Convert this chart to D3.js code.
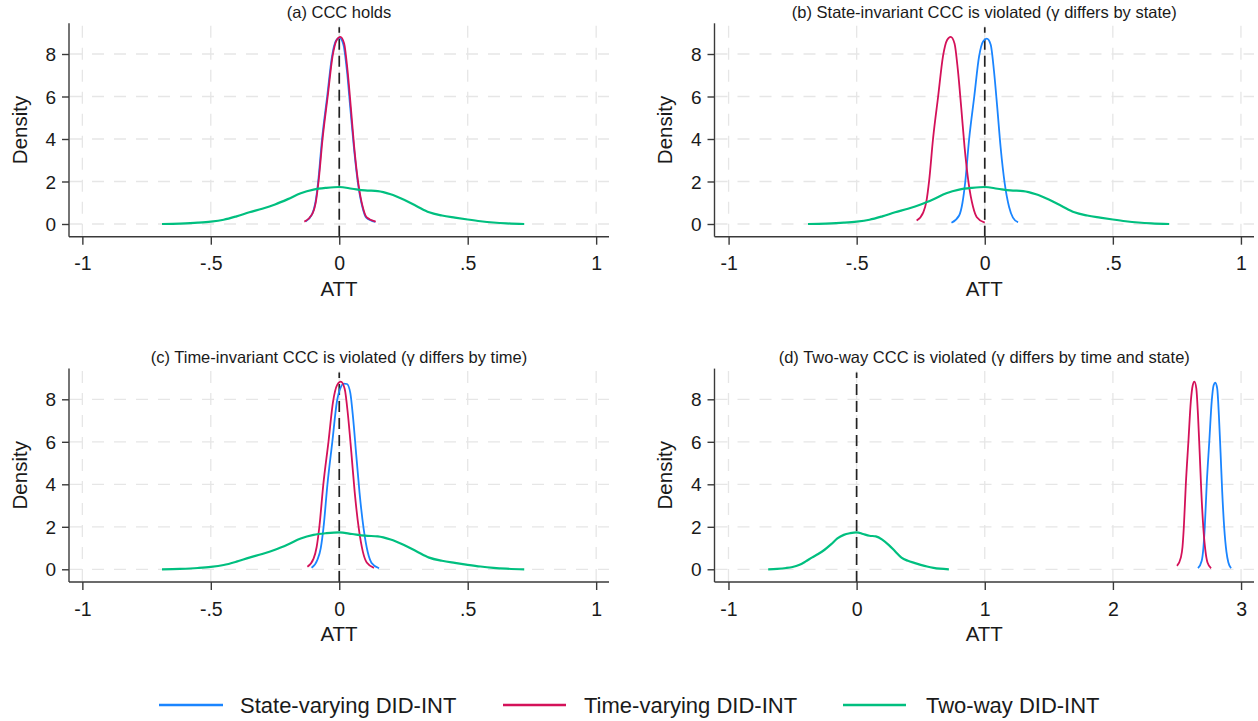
<!DOCTYPE html>
<html><head><meta charset="utf-8">
<script src="https://cdn.jsdelivr.net/npm/d3@7"></script>
<style>
body{margin:0;background:#fff}
svg{display:block}
text{font-family:"Liberation Sans",Arial,sans-serif;fill:#1a1a1a}
</style>
</head><body>
<svg id="chart" width="1258" height="721"></svg>
<script>
// ---------------- data ----------------
const seriesNames = ["State-varying DID-INT", "Time-varying DID-INT", "Two-way DID-INT"];
const seriesColors = ["#1a85ff", "#d41159", "#00bf7f"];
const panelTitles = [
  "(a) CCC holds",
  "(b) State-invariant CCC is violated (\u03b3 differs by state)",
  "(c) Time-invariant CCC is violated (\u03b3 differs by time)",
  "(d) Two-way CCC is violated (\u03b3 differs by time and state)"
];
const xTicksNarrow = [-1, -0.5, 0, 0.5, 1];
const xTickLabelsNarrow = ["-1", "-.5", "0", ".5", "1"];
const xTicksWide = [-1, 0, 1, 2, 3];
const xTickLabelsWide = ["-1", "0", "1", "2", "3"];
const yTicks = [0, 2, 4, 6, 8];
const yTickLabels = ["0", "2", "4", "6", "8"];
const xAxisTitle = "ATT";
const yAxisTitle = "Density";

// Two-way DID-INT density (same in every panel)
const twoWayDensity = [
  [-0.69,0.00],[-0.62,0.02],[-0.55,0.06],[-0.50,0.11],[-0.45,0.20],[-0.40,0.36],
  [-0.35,0.55],[-0.30,0.72],[-0.25,0.92],[-0.20,1.17],[-0.15,1.45],[-0.10,1.62],
  [-0.05,1.70],[0.00,1.74],[0.05,1.66],[0.10,1.58],[0.15,1.55],[0.20,1.40],
  [0.25,1.15],[0.30,0.85],[0.35,0.55],[0.40,0.40],[0.45,0.30],[0.50,0.21],
  [0.55,0.13],[0.60,0.07],[0.65,0.03],[0.72,0.00]
];
// panel (a)
const stateA = [
  [-0.131,0.12],[-0.106,0.45],[-0.093,1.0],[-0.082,2.0],[-0.067,4.0],[-0.047,6.0],
  [-0.028,7.9],[-0.013,8.62],[0.001,8.76],[0.016,8.45],[0.030,7.2],[0.043,5.45],
  [0.057,3.6],[0.073,1.9],[0.090,0.8],[0.105,0.3],[0.140,0.10]
];
const timeA = [
  [-0.136,0.11],[-0.104,0.50],[-0.091,1.05],[-0.080,2.07],[-0.065,4.0],[-0.045,6.0],
  [-0.026,7.9],[-0.010,8.66],[0.004,8.81],[0.019,8.5],[0.032,7.25],[0.045,5.5],
  [0.058,3.64],[0.074,1.92],[0.091,0.82],[0.106,0.32],[0.142,0.11]
];
// panel (b)
const stateB = [
  [-0.130,0.06],[-0.100,0.40],[-0.087,1.0],[-0.076,2.0],[-0.061,4.0],[-0.041,6.0],
  [-0.022,7.9],[-0.006,8.6],[0.008,8.72],[0.023,8.45],[0.036,7.2],[0.049,5.45],
  [0.062,3.6],[0.078,1.9],[0.095,0.8],[0.110,0.3],[0.130,0.08]
];
const timeB = [
  [-0.266,0.16],[-0.240,0.55],[-0.228,1.05],[-0.217,2.05],[-0.202,4.0],[-0.182,6.0],
  [-0.163,7.9],[-0.147,8.66],[-0.133,8.81],[-0.118,8.5],[-0.105,7.25],[-0.092,5.5],
  [-0.079,3.64],[-0.063,1.92],[-0.046,0.82],[-0.031,0.32],[0.000,0.06]
];
// panel (c)
const stateC = [
  [-0.108,0.07],[-0.085,0.45],[-0.072,1.0],[-0.061,2.0],[-0.046,4.0],[-0.027,6.0],
  [-0.009,7.9],[0.007,8.6],[0.018,8.74],[0.030,8.72],[0.043,8.3],[0.054,7.1],
  [0.066,5.4],[0.079,3.6],[0.095,1.9],[0.111,0.8],[0.126,0.3],[0.155,0.05]
];
const timeC = [
  [-0.124,0.12],[-0.100,0.50],[-0.088,1.05],[-0.077,2.05],[-0.062,4.0],[-0.042,6.0],
  [-0.024,7.9],[-0.008,8.68],[0.006,8.83],[0.021,8.5],[0.034,7.25],[0.047,5.5],
  [0.060,3.64],[0.076,1.92],[0.092,0.82],[0.107,0.32],[0.135,0.07]
];
// panel (d)
const stateD = [
  [2.664,0.05],[2.693,0.40],[2.706,1.0],[2.717,2.0],[2.732,4.0],[2.752,6.0],
  [2.771,7.9],[2.786,8.66],[2.799,8.78],[2.814,8.5],[2.827,7.25],[2.840,5.5],
  [2.853,3.64],[2.869,1.92],[2.886,0.82],[2.901,0.32],[2.922,0.05]
];
const timeD = [
  [2.500,0.16],[2.530,0.55],[2.543,1.05],[2.554,2.05],[2.569,4.0],[2.589,6.0],
  [2.608,7.9],[2.623,8.66],[2.636,8.83],[2.651,8.5],[2.664,7.25],[2.677,5.5],
  [2.690,3.64],[2.706,1.92],[2.723,0.82],[2.738,0.32],[2.766,0.05]
];

// ---------------- layout ----------------
const svg = d3.select("#chart");
const yDomain = [-0.598, 9.445];

const panels = [
  {title: panelTitles[0], left: 69,    right: 609,  top: 23.3,  bottom: 236.7, xDomain: [-1.052, 1.05],
   ticks: xTicksNarrow, tickLabels: xTickLabelsNarrow, series: [stateA, timeA, twoWayDensity]},
  {title: panelTitles[1], left: 714.5, right: 1254, top: 23.3,  bottom: 236.7, xDomain: [-1.055, 1.051],
   ticks: xTicksNarrow, tickLabels: xTickLabelsNarrow, series: [stateB, timeB, twoWayDensity]},
  {title: panelTitles[2], left: 69,    right: 609,  top: 368.6, bottom: 582,   xDomain: [-1.052, 1.05],
   ticks: xTicksNarrow, tickLabels: xTickLabelsNarrow, series: [stateC, timeC, twoWayDensity]},
  {title: panelTitles[3], left: 714.5, right: 1254, top: 368.6, bottom: 582,   xDomain: [-1.109, 3.101],
   ticks: xTicksWide, tickLabels: xTickLabelsWide, series: [stateD, timeD, twoWayDensity]}
];

const gridColor = "#e6e6e6";
const axisColor = "#3a3a3a";

panels.forEach(p => {
  const x = d3.scaleLinear().domain(p.xDomain).range([p.left, p.right]);
  const y = d3.scaleLinear().domain(yDomain).range([p.bottom, p.top]);
  const g = svg.append("g");

  // grid
  g.selectAll(".hg").data(yTicks).join("line")
    .attr("x1", p.left + 1).attr("x2", p.right)
    .attr("y1", d => y(d)).attr("y2", d => y(d))
    .attr("stroke", gridColor).attr("stroke-width", 1.3).attr("stroke-dasharray", "12,10");
  g.selectAll(".vg").data(p.ticks).join("line")
    .attr("x1", d => x(d)).attr("x2", d => x(d))
    .attr("y1", p.bottom - 1).attr("y2", p.top)
    .attr("stroke", gridColor).attr("stroke-width", 1.3).attr("stroke-dasharray", "12,10");

  // zero reference line
  g.append("line")
    .attr("x1", x(0)).attr("x2", x(0))
    .attr("y1", p.bottom).attr("y2", p.top + 4)
    .attr("stroke", "#222").attr("stroke-width", 1.7).attr("stroke-dasharray", "11,6");

  // curves
  const line = d3.line().x(d => x(d[0])).y(d => y(d[1])).curve(d3.curveMonotoneX);
  p.series.forEach((s, i) => {
    g.append("path").datum(s)
      .attr("d", line)
      .attr("fill", "none")
      .attr("stroke", seriesColors[i])
      .attr("stroke-width", i === 2 ? 2.2 : 1.8)
      .attr("stroke-linejoin", "round");
  });

  // x axis
  const xAxis = d3.axisBottom(x).tickValues(p.ticks)
    .tickFormat((d, i) => p.tickLabels[i]).tickSize(8).tickPadding(4).tickSizeOuter(0);
  const xa = g.append("g").attr("transform", `translate(0,${p.bottom})`).call(xAxis);
  xa.select(".domain").remove();
  xa.append("line").attr("x1", p.left).attr("x2", p.right).attr("y1", 0).attr("y2", 0)
    .attr("stroke", axisColor).attr("stroke-width", 1.4);
  xa.selectAll(".tick line").attr("stroke", axisColor).attr("stroke-width", 1.4);
  xa.selectAll(".tick text").attr("font-size", 19.5).attr("fill", "#1a1a1a")
    .attr("font-family", '"Liberation Sans",Arial,sans-serif')
    .attr("dy", null).attr("y", 33.8);

  // y axis
  const yAxis = d3.axisLeft(y).tickValues(yTicks)
    .tickFormat((d, i) => yTickLabels[i]).tickSize(7).tickPadding(6).tickSizeOuter(0);
  const ya = g.append("g").attr("transform", `translate(${p.left},0)`).call(yAxis);
  ya.select(".domain").remove();
  ya.append("line").attr("x1", 0).attr("x2", 0).attr("y1", p.top).attr("y2", p.bottom)
    .attr("stroke", axisColor).attr("stroke-width", 1.4);
  ya.selectAll(".tick line").attr("stroke", axisColor).attr("stroke-width", 1.4);
  ya.selectAll(".tick text").attr("font-size", 19).attr("fill", "#1a1a1a")
    .attr("font-family", '"Liberation Sans",Arial,sans-serif')
    .attr("dy", "0.35em");

  // titles
  g.append("text").attr("x", (p.left + p.right) / 2).attr("y", p.top - 5.5)
    .attr("text-anchor", "middle").attr("font-size", 16.5).text(p.title);
  g.append("text").attr("x", x(0) + (p.xDomain[1] > 2 ? 129 : 0))
    .attr("x", (p.left + p.right) / 2)
    .attr("y", p.bottom + 59).attr("text-anchor", "middle").attr("font-size", 20.5).text(xAxisTitle);
  g.append("text")
    .attr("transform", `translate(${p.left - 42.5},${(p.top + p.bottom) / 2}) rotate(-90)`)
    .attr("text-anchor", "middle").attr("font-size", 20.5).text(yAxisTitle);
});

// legend
const legendItems = [
  {x1: 159, x2: 223, tx: 240},
  {x1: 503, x2: 566, tx: 584},
  {x1: 843, x2: 906, tx: 926}
];
const lg = svg.append("g");
seriesNames.forEach((name, i) => {
  lg.append("line").attr("x1", legendItems[i].x1).attr("x2", legendItems[i].x2)
    .attr("y1", 705).attr("y2", 705)
    .attr("stroke", seriesColors[i]).attr("stroke-width", 2.6);
  lg.append("text").attr("x", legendItems[i].tx).attr("y", 713)
    .attr("font-size", 22).text(name);
});
</script>
</body></html>
